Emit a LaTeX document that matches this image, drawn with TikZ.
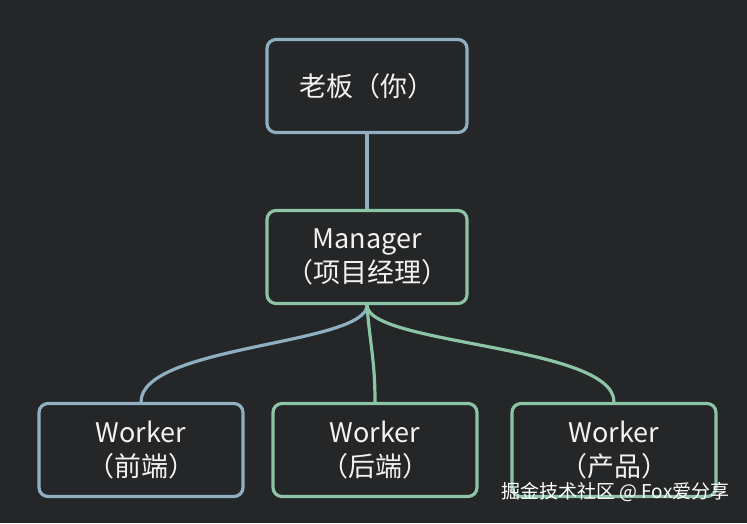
\documentclass[tikz,border=0pt]{standalone}
\usepackage{fontspec}
\setmainfont{Noto Sans CJK SC}
\definecolor{bg}{HTML}{242627}
\definecolor{bl}{HTML}{8FB0C2}
\definecolor{gr}{HTML}{8CC4A6}
\definecolor{tx}{HTML}{F2F2F2}
\begin{document}
\begin{tikzpicture}[x=1pt,y=-1pt,
  box/.style={draw=#1,line width=3.2pt,rounded corners=9pt,minimum width=200pt,minimum height=93pt,text=tx,font=\fontsize{27}{34}\selectfont,align=center},
  lnk/.style={draw=#1,line width=3.2pt}]
\fill[bg] (0,0) rectangle (747,523);
\useasboundingbox (0,0) rectangle (747,523);
\node[box=bl] (boss) at (367,86) {老板（你）};
\node[box=gr] (mgr) at (367,257) {Manager\\（项目经理）};
\node[box=bl,minimum width=204pt] (w1) at (141,450) {Worker\\（前端）};
\node[box=gr,minimum width=204pt] (w2) at (375,450) {Worker\\（后端）};
\node[box=gr,minimum width=204pt] (w3) at (614,450) {Worker\\（产品）};
\draw[lnk=bl] (boss.south) -- (mgr.north);
\draw[lnk=bl] (mgr.south) .. controls (367,345) and (141,345) .. (w1.north);
\draw[lnk=gr] (mgr.south) .. controls (370,345) and (375,360) .. (w2.north);
\draw[lnk=gr] (mgr.south) .. controls (367,345) and (614,345) .. (w3.north);
\node[text=white,font=\fontsize{19}{22}\selectfont,anchor=east] (wm) at (733,492) {掘金技术社区 @ Fox爱分享};
\end{tikzpicture}
\end{document}
